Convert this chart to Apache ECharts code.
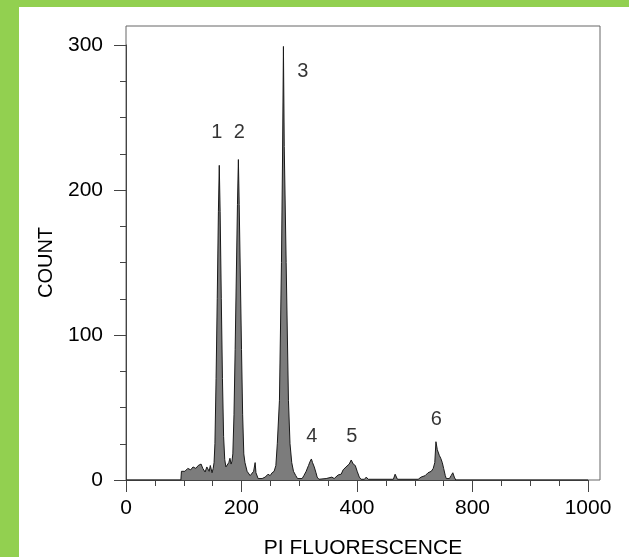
<!DOCTYPE html>
<html>
<head>
<meta charset="utf-8">
<title>PI fluorescence histogram</title>
<script src="https://cdn.jsdelivr.net/npm/echarts@6.0.0/dist/echarts.min.js"></script>
<style>
  html, body { margin: 0; padding: 0; background: #92d050; }
  .frame { width: 629px; height: 557px; box-sizing: border-box; padding: 7px 0 0 19px; }
  #chart { width: 610px; height: 550px; background: #fff; }
</style>
</head>
<body>
<div class="frame"><div id="chart"></div></div>
<script>
// channel positions (axis units) and counts
const channel = [
  0, 95, 96, 102, 107, 112, 116, 121, 125, 130, 133, 137, 140, 144, 146, 149, 151,
  152.5, 154, 156, 158, 160, 161.5, 163, 165, 167, 169, 171, 173, 176, 178, 180, 182, 183.5,
  185, 187, 189, 191, 193, 194.6, 196, 198, 200, 202, 204, 206, 209.7, 215, 218, 221,
  223.6, 225, 228.8, 235.7, 241, 246, 249.6, 253, 256.5, 259.5, 262, 265.7, 269.2, 271,
  272.6, 274, 277.3, 281.3, 284, 287, 290, 294, 297, 300, 305, 308, 312, 316, 319, 321,
  323, 326, 329, 331, 334, 346.6, 356.5, 360.5, 367.4, 372.6, 376, 381, 386.5, 390,
  393.4, 397, 400.3, 404, 407, 413, 416, 419.4, 463, 466, 470, 506, 511, 518, 523,
  528.6, 532, 534.7, 536.7, 539, 542.5, 545, 547.7, 550, 552.9, 554.6, 560, 563, 565.9,
  568.5, 571, 800
]
const count = [
  0, 0, 6, 6, 8, 7, 9, 8, 10, 11, 8, 5.5, 9, 6, 10, 5, 8,
  12, 25, 70, 125, 185, 217, 185, 125, 70, 30, 14, 9, 8, 12, 15, 11, 13,
  18, 45, 90, 140, 190, 221, 190, 140, 90, 45, 18, 12, 6, 3, 2, 6,
  12, 5, 1, 1, 2, 4, 3, 5, 6, 10, 25, 55, 150, 220,
  299, 230, 150, 55, 25, 12, 6, 3, 1, 0.5, 1, 3, 6, 10, 13, 14.5,
  12, 9, 5, 2, 0.5, 1, 2, 1, 3.5, 4, 7, 9, 11, 13.8,
  11, 10, 6, 2, 0.5, 0.5, 2, 0.5, 0.5, 4, 0.5, 0.5, 2, 3, 5,
  6, 8, 12, 26.4, 21, 17, 15, 12, 8, 3, 1, 1, 3, 5,
  2, 0, 0
]

// peak numbers placed above each peak
const peakLabelX = [157.2, 196.4, 306.2, 321.8, 391.2, 537.3]
const peakLabelY = [240, 240, 282, 30, 30, 42]
const peakLabels = ['1', '2', '3', '4', '5', '6']

const xTickLabels = ['0', '200', '400', '800', '1000']

const font = 'Liberation Sans, Arial, Helvetica, sans-serif'
const axisColor = '#444'
const textColor = '#000'

const chart = echarts.init(document.getElementById('chart'))

chart.setOption({
  animation: false,
  textStyle: { fontFamily: font },
  grid: [
    { left: 107, top: 38, right: 41, bottom: 77, outerBoundsMode: 'none', containLabel: false },
    {
      // plain box round the plot, wider and taller than the axes
      left: 107, top: 19, right: 29, bottom: 77,
      outerBoundsMode: 'none', containLabel: false,
      show: true, borderColor: '#666', borderWidth: 1, backgroundColor: 'transparent'
    }
  ],
  xAxis: [
    {
      gridIndex: 0,
      type: 'value',
      min: 0,
      max: 800,
      interval: 200,
      axisLine: { show: true, lineStyle: { color: axisColor, width: 1 } },
      axisTick: { show: true, inside: false, length: 12, lineStyle: { color: axisColor } },
      minorTick: { show: true, splitNumber: 4, length: 6, lineStyle: { color: axisColor } },
      axisLabel: {
        margin: 18,
        fontSize: 21,
        color: textColor,
        formatter: v => xTickLabels[Math.round(v / 200)]
      },
      splitLine: { show: false }
    },
    {
      gridIndex: 1,
      type: 'value',
      min: 0,
      max: 1,
      axisLine: { show: false },
      axisTick: { show: false },
      axisLabel: { show: false },
      splitLine: { show: false },
      name: 'PI FLUORESCENCE',
      nameLocation: 'middle',
      nameGap: 58,
      nameTextStyle: { fontSize: 21, color: textColor }
    }
  ],
  yAxis: [
    {
      gridIndex: 0,
      type: 'value',
      min: 0,
      max: 300,
      interval: 100,
      name: 'COUNT',
      nameLocation: 'middle',
      nameGap: 70,
      nameTextStyle: { fontSize: 20, color: textColor },
      axisLine: { show: true, lineStyle: { color: axisColor, width: 1 } },
      axisTick: { show: true, inside: false, length: 12, lineStyle: { color: axisColor } },
      minorTick: { show: true, splitNumber: 4, length: 6, lineStyle: { color: axisColor } },
      axisLabel: { margin: 23, fontSize: 21, color: textColor },
      splitLine: { show: false }
    },
    {
      gridIndex: 1,
      type: 'value',
      show: false,
      min: 0,
      max: 1
    }
  ],
  series: [
    {
      name: 'count',
      type: 'line',
      xAxisIndex: 0,
      yAxisIndex: 0,
      data: channel.map((c, i) => [c, count[i]]),
      showSymbol: false,
      symbol: 'none',
      lineStyle: { color: '#1a1a1a', width: 1 },
      areaStyle: { color: '#7c7c7c', opacity: 1 },
      silent: true
    },
    {
      name: 'peaks',
      type: 'scatter',
      xAxisIndex: 0,
      yAxisIndex: 0,
      symbolSize: 1,
      itemStyle: { color: 'transparent' },
      data: peakLabelX.map((x, i) => ({ value: [x, peakLabelY[i]], name: peakLabels[i] })),
      label: {
        show: true,
        position: 'inside',
        formatter: p => p.name,
        fontSize: 20,
        color: textColor
      },
      silent: true
    }
  ]
})
</script>
</body>
</html>
